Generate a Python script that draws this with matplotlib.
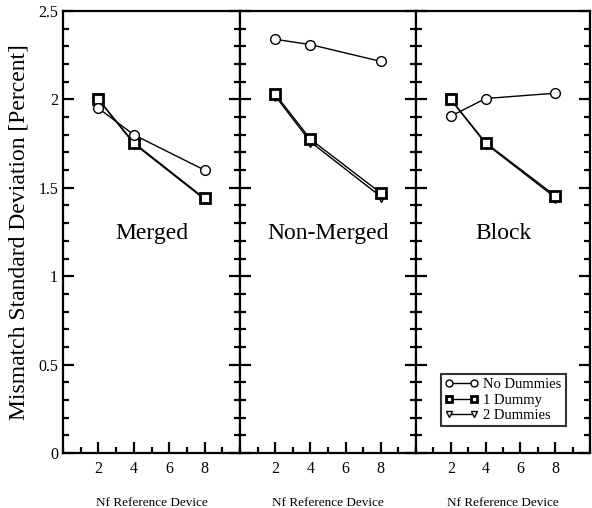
import matplotlib
matplotlib.use("Agg")
import matplotlib.pyplot as plt
from matplotlib.ticker import MultipleLocator

panels = ["Merged", "Non-Merged", "Block"]
nf = [2, 4, 8]
series_names = ["No Dummies", "1 Dummy", "2 Dummies"]
no_dummies = [[1.95, 1.80, 1.60], [2.34, 2.31, 2.215], [1.905, 2.005, 2.035]]
one_dummy = [[2.00, 1.755, 1.44], [2.03, 1.775, 1.47], [2.00, 1.755, 1.455]]
two_dummies = [[2.00, 1.75, 1.435], [2.02, 1.76, 1.45], [2.00, 1.75, 1.445]]
xticks = [2, 4, 6, 8]
yticks = [0, 0.5, 1, 1.5, 2, 2.5]
ytick_labels = ["0", "0.5", "1", "1.5", "2", "2.5"]

plt.rcParams['font.family'] = ['Liberation Serif', 'DejaVu Serif']

fig = plt.figure(figsize=(5.92, 5.08), dpi=100)
W, H = 592, 508
edges = [63, 240, 416, 590]
top, bottom = 11, 453

styles = [
    dict(marker='o', markersize=7, markeredgewidth=1.0),
    dict(marker='s', markersize=7, markeredgewidth=2.0),
    dict(marker='v', markersize=7, markeredgewidth=1.0),
]
data = [no_dummies, one_dummy, two_dummies]

for i, name in enumerate(panels):
    l = edges[i] / W
    w = (edges[i + 1] - edges[i]) / W
    b = (H - bottom) / H
    h = (bottom - top) / H
    ax = fig.add_axes([l, b, w, h])
    handles = []
    for s, st in zip(range(3), styles):
        ln, = ax.plot(nf, data[s][i], color='black', linewidth=1.0,
                      markerfacecolor='white', markeredgecolor='black',
                      label=series_names[s], zorder=5 - s, **st)
        handles.append(ln)
    ax.set_xlim(0, 10)
    ax.set_ylim(0, 2.5)
    ax.set_xticks(xticks)
    ax.xaxis.set_minor_locator(MultipleLocator(1))
    ax.yaxis.set_major_locator(MultipleLocator(0.5))
    ax.yaxis.set_minor_locator(MultipleLocator(0.1))
    ax.tick_params(axis='both', which='major', direction='in', length=8,
                   width=1.6, labelsize=11.5)
    ax.tick_params(axis='both', which='minor', direction='in', length=4,
                   width=1.6)
    ax.tick_params(axis='y', which='both', left=True, right=True)
    ax.tick_params(axis='x', which='both', top=False, pad=6)
    for sp in ax.spines.values():
        sp.set_linewidth(1.6)
    if i == 0:
        ax.set_yticks(yticks)
        ax.set_yticklabels(ytick_labels, fontsize=11.5)
        ax.set_ylabel("Mismatch Standard Deviation [Percent]", fontsize=17)
        ax.yaxis.set_label_coords(-0.19, 0.5)
    else:
        ax.tick_params(axis='y', labelleft=False)
    ax.text(5, 1.24, name, ha='center', va='center', fontsize=17)
    ax.set_xlabel("Nf Reference Device", fontsize=9.5, labelpad=14)
    if i == 2:
        leg = ax.legend(handles=handles, loc='lower right',
                        bbox_to_anchor=(0.86, 0.06), numpoints=2,
                        fontsize=10.5, frameon=True, fancybox=False,
                        edgecolor='black', handlelength=2.3,
                        handletextpad=0.3, borderpad=0.3,
                        labelspacing=0.15, borderaxespad=0)
        leg.get_frame().set_linewidth(1.5)
        for lh in leg.get_lines():
            lh.set_markersize(5)

fig.savefig("out.png", dpi=100)
